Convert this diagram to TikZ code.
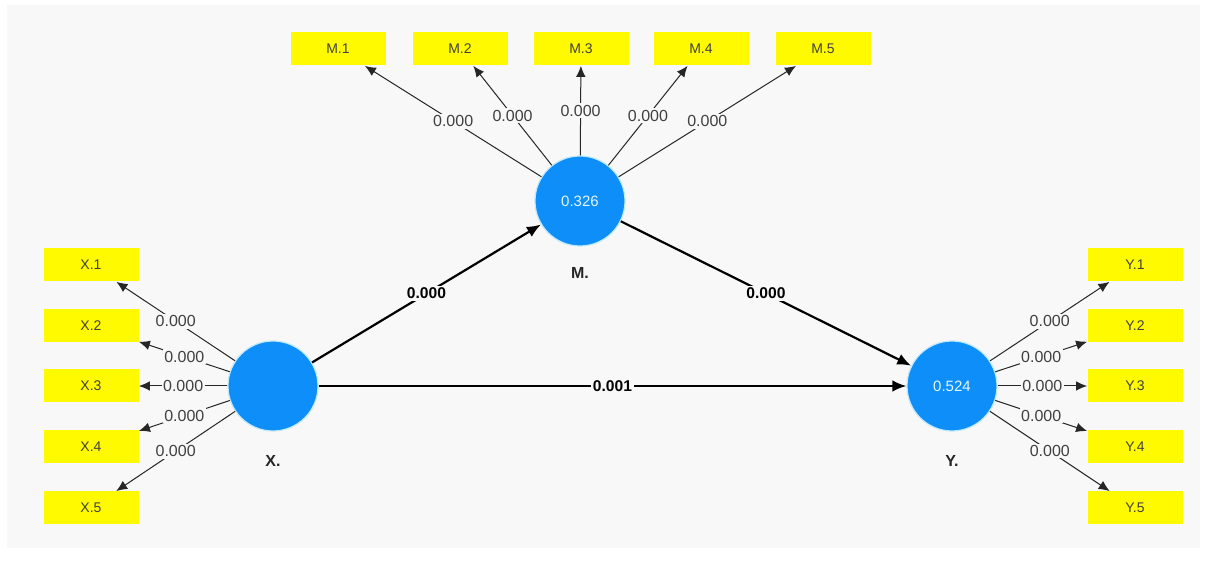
\documentclass[tikz,border=0pt]{standalone}
\usepackage{fontspec}
\setmainfont{Liberation Sans}
\usetikzlibrary{arrows.meta,positioning}
\definecolor{lvblue}{RGB}{14,142,248}
\definecolor{indyellow}{RGB}{255,250,0}
\definecolor{bggrey}{RGB}{248,248,248}

\begin{document}
\begin{tikzpicture}[x=0.5pt,y=-0.5pt,
    latent/.style={circle,fill=lvblue,draw=cyan!25,line width=0.6pt,minimum size=45pt,inner sep=0pt,
      text=white!90!cyan,font=\fontsize{7.5}{9}\selectfont},
    ind/.style={rectangle,fill=indyellow,minimum width=47.5pt,minimum height=16.5pt,inner sep=0pt,
      text=black!75,font=\fontsize{7}{8}\selectfont},
    load/.style={-{Latex[length=5.5pt,width=4.8pt]},line width=0.5pt,black!85},
    struct/.style={-{Latex[length=7pt,width=5.8pt]},line width=1.1pt,black},
    lbl/.style={fill=bggrey,inner sep=0.8pt,text=black!75,font=\fontsize{8}{9}\selectfont},
    plbl/.style={fill=bggrey,inner sep=0.8pt,text=black,font=\bfseries\fontsize{7.8}{9}\selectfont},
    lvname/.style={text=black!85,font=\bfseries\fontsize{8}{9}\selectfont}]
  \useasboundingbox (0,0) rectangle (1207,561);
  \fill[bggrey] (7,5) rectangle (1200,548);

  % latent variables
  \node[latent] (X) at (273,386) {};
  \node[latent] (M) at (580,201) {0.326};
  \node[latent] (Y) at (952,386) {0.524};
  \node[lvname] (Xname) at (273,461) {X.};
  \node[lvname] (Mname) at (580,273) {M.};
  \node[lvname] (Yname) at (952,461) {Y.};

  % indicators
  \node[ind] (X1) at (91,265) {X.1};
  \node[ind] (X2) at (91,326) {X.2};
  \node[ind] (X3) at (91,386) {X.3};
  \node[ind] (X4) at (91,447) {X.4};
  \node[ind] (X5) at (91,508) {X.5};

  \node[ind] (Y1) at (1135,265) {Y.1};
  \node[ind] (Y2) at (1135,326) {Y.2};
  \node[ind] (Y3) at (1135,386) {Y.3};
  \node[ind] (Y4) at (1135,447) {Y.4};
  \node[ind] (Y5) at (1135,508) {Y.5};

  \node[ind] (M1) at (338,49) {M.1};
  \node[ind] (M2) at (460,49) {M.2};
  \node[ind] (M3) at (581,49) {M.3};
  \node[ind] (M4) at (701,49) {M.4};
  \node[ind] (M5) at (823,49) {M.5};

  % outer loadings
  \path[load]
  (X) edge node[lbl] {0.000} (X1)
  (X) edge node[lbl] {0.000} (X2)
  (X) edge node[lbl] {0.000} (X3)
  (X) edge node[lbl] {0.000} (X4)
  (X) edge node[lbl] {0.000} (X5)
  (M) edge node[lbl] {0.000} (M1)
  (M) edge node[lbl] {0.000} (M2)
  (M) edge node[lbl] {0.000} (M3)
  (M) edge node[lbl] {0.000} (M4)
  (M) edge node[lbl] {0.000} (M5)
  (Y) edge node[lbl] {0.000} (Y1)
  (Y) edge node[lbl] {0.000} (Y2)
  (Y) edge node[lbl] {0.000} (Y3)
  (Y) edge node[lbl] {0.000} (Y4)
  (Y) edge node[lbl] {0.000} (Y5)
  ;

  % inner model
  \path[struct]
  (X) edge node[plbl] {0.000} (M)
  (M) edge node[plbl] {0.000} (Y)
  (X) edge node[plbl] {0.001} (Y)
  ;
\end{tikzpicture}
\end{document}
